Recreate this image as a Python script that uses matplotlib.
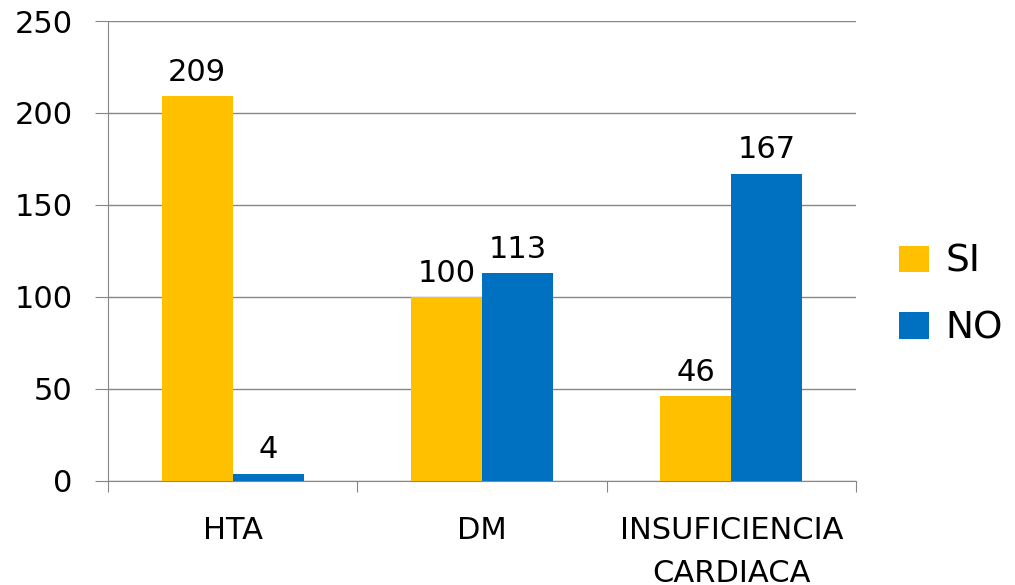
import numpy as np
import matplotlib.pyplot as plt

categorias = ['HTA', 'DM', 'INSUFICIENCIA\nCARDIACA']
si = [209, 100, 46]
no = [4, 113, 167]

plt.rcParams['font.family'] = ['DejaVu Sans']

fig = plt.figure(figsize=(10.15, 5.85), dpi=100)
ax = fig.add_axes([0.1064, 0.1778, 0.7369, 0.7863])

x = np.arange(len(categorias))
w = 0.285
b1 = ax.bar(x - w / 2, si, w, color='#FFC000', label='SI', zorder=3)
b2 = ax.bar(x + w / 2, no, w, color='#0070C0', label='NO', zorder=3)

# etiquetas de valor encima de cada barra
for bars in (b1, b2):
    for r in bars:
        ax.annotate(str(int(r.get_height())), (r.get_x() + r.get_width() / 2, r.get_height()),
                    xytext=(0, 11), textcoords='offset points',
                    ha='center', va='baseline', fontsize=22)

ax.set_xlim(-0.5, 2.5)
ax.set_ylim(0, 250)
ax.set_yticks(range(0, 251, 50))
ax.yaxis.grid(True, color='#868686', lw=1, zorder=0)
ax.set_xticks([-0.5, 0.5, 1.5, 2.5])
ax.set_xticklabels([])
ax.set_xticks(x, minor=True)
ax.set_xticklabels(categorias, minor=True, fontsize=22, linespacing=1.6)
ax.tick_params(axis='x', which='minor', length=0, pad=25)
ax.tick_params(axis='x', which='major', length=8, color='#868686', direction='out')
ax.tick_params(axis='y', length=9.5, color='#868686', labelsize=22, pad=16)

for s in ['top', 'right']:
    ax.spines[s].set_visible(False)
ax.spines['left'].set_color('#868686')
ax.spines['bottom'].set_color('#868686')

ax.legend(loc='center left', bbox_to_anchor=(1.057, 0.404), frameon=False, fontsize=27,
          handlelength=0.8, handleheight=0.7, handletextpad=0.45, labelspacing=0.82,
          borderaxespad=0, borderpad=0)

fig.savefig('out.png', dpi=100)
